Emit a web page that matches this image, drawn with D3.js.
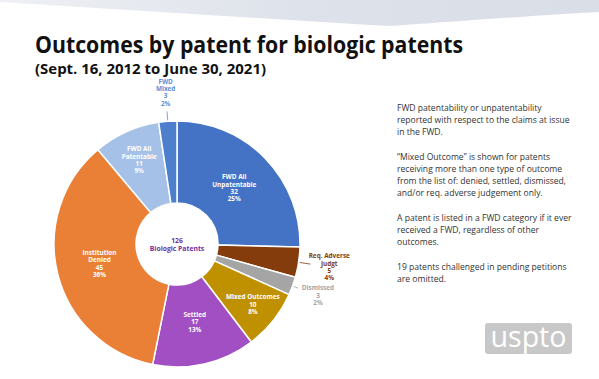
<!DOCTYPE html>
<html><head><meta charset="utf-8">
<script src="https://cdn.jsdelivr.net/npm/d3@7/dist/d3.min.js"></script>
<style>
html,body{margin:0;padding:0;background:#fff;}
svg{display:block;font-family:"Open Sans",sans-serif;}
</style></head>
<body>
<svg id="chart" width="599" height="379"></svg>
<script>
// ---- data ----
const titleText = "Outcomes by patent for biologic patents";
const subtitleText = "(Sept. 16, 2012 to June 30, 2021)";
const categories = ["FWD All Unpatentable","Req. Adverse Judgt","Dismissed","Mixed Outcomes","Settled","Institution Denied","FWD All Patentable","FWD Mixed"];
const labelLines = [["FWD All","Unpatentable"],["Req. Adverse","Judgt"],["Dismissed"],["Mixed Outcomes"],["Settled"],["Institution","Denied"],["FWD All","Patentable"],["FWD","Mixed"]];
const values = [32,5,3,10,17,45,11,3];
const centerLines = ["126","Biologic Patents"];
const notes = [
  ["FWD patentability or unpatentability","reported with respect to the claims at issue","in the FWD."],
  ["\u201CMixed Outcome\u201D is shown for patents","receiving more than one type of outcome","from the list of: denied, settled, dismissed,","and/or req. adverse judgement only."],
  ["A patent is listed in a FWD category if it ever","received a FWD, regardless of other","outcomes."],
  ["19 patents challenged in pending petitions","are omitted."]
];

// ---- styles ----
const colors = ["#4472C4","#843C0C","#A5A5A5","#BF9000","#A24FC3","#EA7F36","#A6C1E7","#4E7FCC"];
const labelStyle = [
  {mode:"in", r:80, fill:"#fff"},
  {mode:"out", r:154, lead:135, fill:"#843C0C"},
  {mode:"out", r:150, lead:129, fill:"#A5A5A5"},
  {mode:"in", r:97, fill:"#fff"},
  {mode:"in", r:80, fill:"#fff"},
  {mode:"in", r:80, fill:"#fff"},
  {mode:"in", r:92, fill:"#fff"},
  {mode:"out", r:152, lead:133, fill:"#5B8FD6"}
];

const svg = d3.select("#chart");

// top band
const defs = svg.append("defs");
const grad = defs.append("linearGradient").attr("id","band").attr("x1","0").attr("x2","1");
grad.append("stop").attr("offset","0").attr("stop-color","#EEF0F4");
grad.append("stop").attr("offset","0.5").attr("stop-color","#DEE2EA");
grad.append("stop").attr("offset","1").attr("stop-color","#D9DEE7");
svg.append("path")
  .attr("d","M0,0 H599 V12 C540,15 450,22 405,25 C395,26 385,26 370,25 L0,2 Z")
  .attr("fill","url(#band)");

// title
function fitText(sel, width){
  sel.attr("textLength", width).attr("lengthAdjust","spacingAndGlyphs");
}
const t = svg.append("text").attr("x",35).attr("y",53)
  .attr("font-size",23).attr("font-weight",700).attr("fill","#111").text(titleText);
fitText(t, 428);
const st = svg.append("text").attr("x",35).attr("y",74)
  .attr("font-size",14.5).attr("font-weight",700).attr("fill","#111").text(subtitleText);
fitText(st, 231);

// pie
const cx = 177, cy = 244, R = 123, r0 = 41;
const g = svg.append("g").attr("transform",`translate(${cx},${cy})`);
const pie = d3.pie().sort(null).value(d=>d.value);
const data = categories.map((c,i)=>({name:c, value:values[i], lines:labelLines[i], i}));
const total = d3.sum(values);
const arcs = pie(data);
const arc = d3.arc().innerRadius(r0).outerRadius(R);

g.selectAll("path.slice").data(arcs).enter().append("path")
  .attr("class","slice").attr("d",arc)
  .attr("fill",d=>colors[d.data.i])
  .attr("stroke","#fff").attr("stroke-width",1.5).attr("stroke-linejoin","round");

const fmtPct = v => Math.round(v/total*100) + "%";
const lh = 7.3;
arcs.forEach(a=>{
  const s = labelStyle[a.data.i];
  const mid = (a.startAngle + a.endAngle)/2;
  const px = s.r*Math.sin(mid), py = -s.r*Math.cos(mid);
  if(s.mode === "out"){
    const r1 = R+1, r2 = s.lead;
    g.append("line")
      .attr("x1", r1*Math.sin(mid)).attr("y1", -r1*Math.cos(mid))
      .attr("x2", r2*Math.sin(mid)).attr("y2", -r2*Math.cos(mid))
      .attr("stroke", s.fill).attr("stroke-width",0.8);
  }
  const lines = a.data.lines.concat([String(a.data.value), fmtPct(a.data.value)]);
  const y0 = py - (lines.length-1)*lh/2;
  const txt = g.append("text").attr("text-anchor","middle")
    .attr("font-size",6.4).attr("font-weight",700).attr("fill",s.fill);
  lines.forEach((l,k)=>{
    txt.append("tspan").attr("x",px).attr("y",y0 + k*lh).attr("dy","0.35em").text(l);
  });
});

// center
const ct = g.append("text").attr("text-anchor","middle")
  .attr("font-size",6.8).attr("font-weight",700).attr("fill","#7030A0");
centerLines.forEach((l,k)=>{
  ct.append("tspan").attr("x",0).attr("y",-3 + k*7.6).attr("dy","0.35em").text(l);
});

// notes
const nx = 397;
const probe = svg.append("text").attr("font-size",10).text(notes[0][1]);
const fs = 10*173/probe.node().getComputedTextLength();
probe.remove();
const paraStart = [111, 160, 221, 270];
notes.forEach((para,p)=>{
  para.forEach((line,k)=>{
    svg.append("text").attr("x",nx).attr("y",paraStart[p] + k*12)
      .attr("font-size",fs).attr("fill","#333").text(line);
  });
});

// logo
const logo = svg.append("g");
logo.append("rect").attr("x",485).attr("y",323).attr("width",87).attr("height",31)
  .attr("rx",3).attr("fill","#C8C8C8");
const lt = logo.append("text").attr("x",528.5).attr("y",347).attr("text-anchor","middle")
  .attr("font-size",29).attr("fill","#fff").attr("font-family","Open Sans, sans-serif").text("uspto");
lt.attr("textLength",76).attr("lengthAdjust","spacingAndGlyphs");
</script>
</body></html>
